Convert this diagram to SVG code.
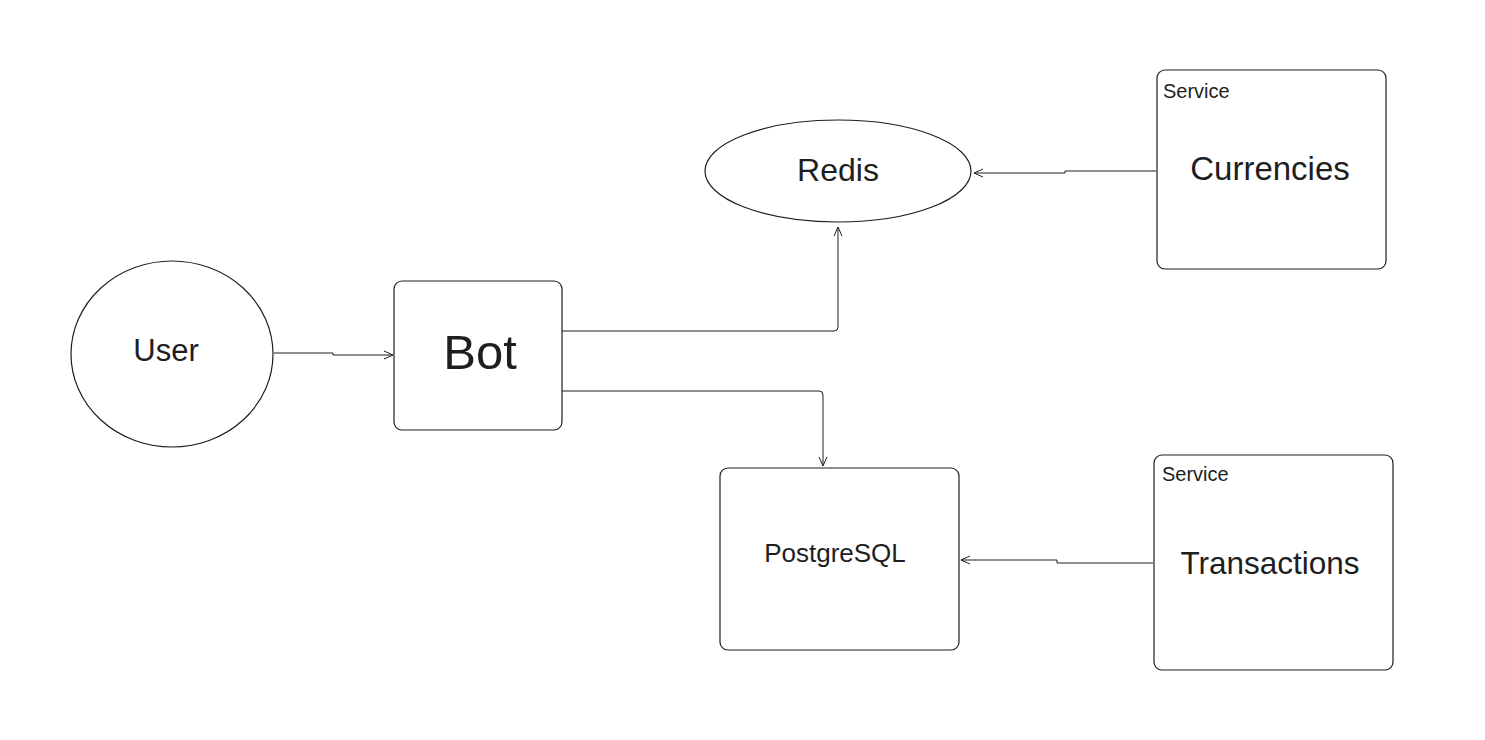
<svg xmlns="http://www.w3.org/2000/svg" width="1485" height="740" viewBox="0 0 1485 740">
<defs>
<style>
.shape{fill:#ffffff;stroke:#1e1e1e;stroke-width:1.2}
.lbl{font-family:"Liberation Sans",Arial,sans-serif;fill:#1e1e1e;text-anchor:middle;dominant-baseline:central}
.tag{font-family:"Liberation Sans",Arial,sans-serif;fill:#1e1e1e;font-size:20px}
.conn{fill:none;stroke:#1e1e1e;stroke-width:1;marker-end:url(#arr)}
</style>
<marker id="arr" markerWidth="12" markerHeight="10" refX="10" refY="5" orient="auto" markerUnits="userSpaceOnUse">
<path d="M1,1 L10,5 L1,9" fill="none" stroke="#1e1e1e" stroke-width="1"/>
</marker>
</defs>
<rect width="1485" height="740" fill="#ffffff"/>
<g id="connectors">
<path class="conn" d="M274,353 L333,353 L333,355 L393,355"/>
<path class="conn" d="M562,331 L834,331 Q838,331 838,327 L838,227"/>
<path class="conn" d="M562,391 L819,391 Q823,391 823,395 L823,466"/>
<path class="conn" d="M1156,171 L1065,171 L1065,173 L974,173"/>
<path class="conn" d="M1153,563 L1057,563 L1057,560 L961,560"/>
</g>
<g id="user">
<ellipse class="shape" cx="172" cy="354" rx="101" ry="93"/>
<text class="lbl" x="166" y="350" font-size="31">User</text>
</g>
<g id="bot">
<rect class="shape" x="394" y="281" width="168" height="149" rx="8"/>
<text class="lbl" x="480" y="352" font-size="49">Bot</text>
</g>
<g id="redis">
<ellipse class="shape" cx="838" cy="171" rx="133" ry="51"/>
<text class="lbl" x="838" y="170" font-size="32">Redis</text>
</g>
<g id="currencies">
<rect class="shape" x="1157" y="70" width="229" height="199" rx="8"/>
<text class="tag" x="1163" y="98">Service</text>
<text class="lbl" x="1270" y="168" font-size="33">Currencies</text>
</g>
<g id="postgresql">
<rect class="shape" x="720" y="468" width="239" height="182" rx="8"/>
<text class="lbl" x="835" y="553" font-size="26">PostgreSQL</text>
</g>
<g id="transactions">
<rect class="shape" x="1154" y="455" width="239" height="215" rx="8"/>
<text class="tag" x="1162" y="481">Service</text>
<text class="lbl" x="1270" y="563" font-size="31.5">Transactions</text>
</g>
</svg>
